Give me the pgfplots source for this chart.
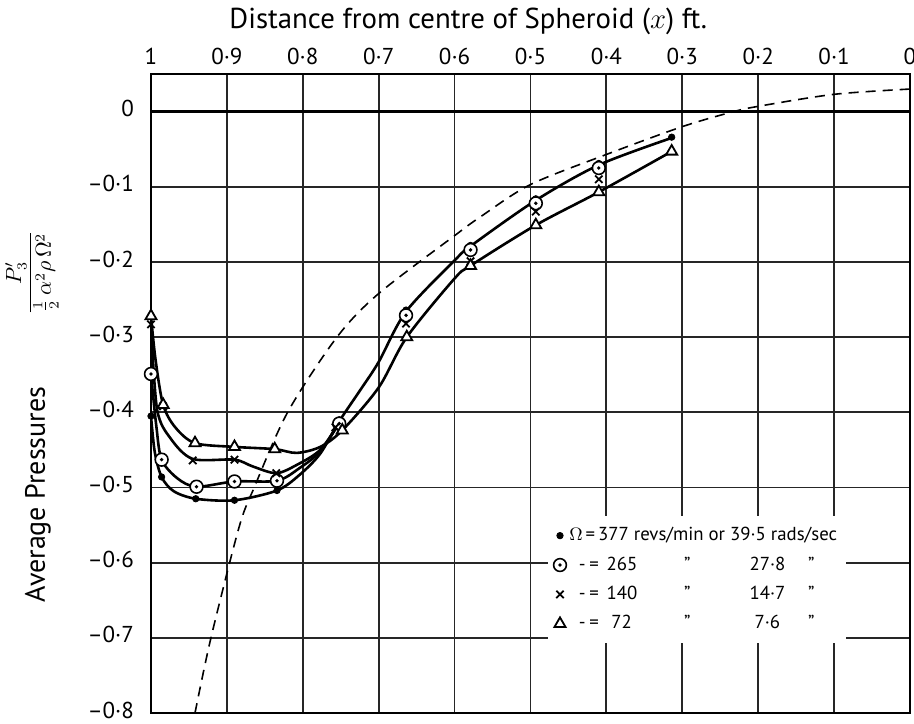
\documentclass[border=0pt]{standalone}
\usepackage{fontspec}
\setmainfont{PT Sans}
\usepackage{pgfplots}
\pgfplotsset{compat=1.18}
\pgfdeclareplotmark{odot}{%
  \pgfpathcircle{\pgfpointorigin}{\pgfplotmarksize}%
  \pgfsetfillcolor{white}\pgfusepathqfillstroke
  \pgfpathcircle{\pgfpointorigin}{0.3\pgfplotmarksize}%
  \pgfsetfillcolor{black}\pgfusepathqfill}
\pgfplotsset{mkleg/.style={legend image code/.code={\draw[mark repeat=2,mark phase=2,##1] plot coordinates {(0cm,0cm) (0.15cm,0cm) (0.3cm,0cm)};}}}
\begin{document}
\begin{tikzpicture}
\path[use as bounding box] (-75.5pt,-5pt) rectangle (381.5pt,356.5pt);
\begin{axis}[
  at={(0,0)}, anchor=south west, scale only axis,
  width=379.5pt, height=319.5pt,
  xmin=0, xmax=1, ymin=-0.8, ymax=0.05, x dir=reverse,
  xtick={0,0.1,0.2,0.3,0.4,0.5,0.6,0.7,0.8,0.9,1},
  xticklabels={0,0·1,0·2,0·3,0·4,0·5,0·6,0·7,0·8,0·9,1},
  xticklabel pos=upper,
  xticklabel style={anchor=base, yshift=5pt},
  ytick={-0.8,-0.7,-0.6,-0.5,-0.4,-0.3,-0.2,-0.1,0},
  yticklabels={–0·8,–0·7,–0·6,–0·5,–0·4,–0·3,–0·2,–0·1,0},
  yticklabel style={anchor=east, xshift=-5pt, yshift=1.5pt},
  ticklabel style={font=\fontsize{11.5}{13}\selectfont},
  major tick length=0pt,
  grid=major,
  major grid style={black!85, line width=0.9pt},
  axis line style={black, line width=1pt},
  extra y ticks={0}, extra y tick labels={},
  extra y tick style={grid=major, major grid style={black, line width=1.6pt}},
  title={Distance from centre of Spheroid ($x$) ft.},
  title style={at={(axis description cs:0.418,1)}, anchor=base, yshift=17pt, font=\fontsize{14.4}{16}\selectfont},
  ylabel={Average Pressures\hspace{36pt}\raisebox{4.5pt}{\fontsize{10.5}{12}\selectfont$\displaystyle\frac{P'_3}{\frac{1}{2}\,\alpha^2\rho\,\Omega^2}$}},
  ylabel style={at={(axis description cs:-0.1397,0.464)}, anchor=base, font=\fontsize{14}{16}\selectfont},
  legend style={at={(axis cs:0.478,-0.538)}, anchor=north west, draw=none, fill=white,
    font=\fontsize{9.4}{11.5}\selectfont, row sep=3.5pt, inner xsep=3pt, inner ysep=4pt,
    nodes={inner sep=1.5pt}},
  legend cell align=left,
]
% curves
\addplot[black, line width=1.3pt, smooth, tension=0.5, forget plot] coordinates {
 (1,-0.405) (0.995,-0.453) (0.986,-0.486) (0.97,-0.505) (0.941,-0.515) (0.89,-0.517)
 (0.834,-0.504) (0.804,-0.483) (0.777,-0.455) (0.752,-0.412) (0.724,-0.370) (0.7,-0.333)
 (0.664,-0.266) (0.6,-0.198) (0.579,-0.179) (0.493,-0.118) (0.41,-0.071) (0.314,-0.035)};
\addplot[black, line width=1.3pt, smooth, tension=0.5, forget plot] coordinates {
 (1,-0.349) (0.993,-0.418) (0.986,-0.463) (0.965,-0.488) (0.94,-0.499) (0.89,-0.492)
 (0.834,-0.491) (0.804,-0.474) (0.777,-0.452) (0.752,-0.414)};
\addplot[black, line width=1.3pt, smooth, tension=0.5, forget plot] coordinates {
 (1,-0.283) (0.992,-0.396) (0.974,-0.435) (0.945,-0.462) (0.89,-0.463) (0.866,-0.472)
 (0.835,-0.481) (0.808,-0.470) (0.777,-0.450) (0.752,-0.414)};
\addplot[black, line width=1.3pt, smooth, tension=0.5, forget plot] coordinates {
 (1,-0.272) (0.994,-0.33) (0.984,-0.39) (0.968,-0.42) (0.942,-0.441) (0.89,-0.446)
 (0.837,-0.449) (0.808,-0.454) (0.777,-0.446) (0.748,-0.424) (0.7,-0.367) (0.663,-0.300)
 (0.6,-0.222) (0.579,-0.205) (0.493,-0.151) (0.41,-0.107) (0.314,-0.053)};
% dashed curve
\addplot[black, line width=0.8pt, dash pattern=on 5pt off 3.5pt, smooth, tension=0.5, forget plot] coordinates {
 (0.942,-0.8) (0.921,-0.7) (0.884,-0.553) (0.864,-0.5) (0.82,-0.4) (0.755,-0.3) (0.7,-0.242)
 (0.6,-0.165) (0.566,-0.140) (0.5,-0.097) (0.4,-0.057) (0.3,-0.020) (0.236,-0.001)
 (0.2,0.007) (0.1,0.023) (0,0.030)};
% markers
\addplot[only marks, mark=*, mark size=1.6pt, black, mkleg] coordinates {
 (1,-0.405) (0.986,-0.486) (0.941,-0.515) (0.89,-0.517) (0.834,-0.504) (0.752,-0.410)
 (0.664,-0.264) (0.579,-0.178) (0.493,-0.116) (0.41,-0.069) (0.314,-0.034)};
\addlegendentry{\makebox[6.5pt][l]{$\Omega$}\,=\,377 revs/min or 39·5 rads/sec}
\addplot[only marks, mark=odot, mark size=3.2pt, black, mark options={line width=0.8pt}, mkleg] coordinates {
 (1,-0.349) (0.986,-0.463) (0.94,-0.499) (0.89,-0.492) (0.834,-0.491) (0.752,-0.415)
 (0.664,-0.271) (0.579,-0.184) (0.493,-0.122) (0.41,-0.075)};
\addlegendentry{\makebox[17pt][l]{\hspace{4.8pt}-\hspace{1.8pt}=}\makebox[32pt][l]{\,265}\makebox[20pt]{”}\makebox[20pt]{}\makebox[20pt]{27·8}\makebox[2pt]{}\makebox[20pt]{”}}
\addplot[only marks, mark=x, mark size=2.6pt, black, mark options={line width=0.9pt}, mkleg] coordinates {
 (1,-0.283) (0.984,-0.392) (0.945,-0.464) (0.89,-0.463) (0.835,-0.481) (0.757,-0.420)
 (0.664,-0.282) (0.579,-0.199) (0.493,-0.133) (0.41,-0.090)};
\addlegendentry{\makebox[17pt][l]{\hspace{4.8pt}-\hspace{1.8pt}=}\makebox[32pt][l]{\,140}\makebox[20pt]{”}\makebox[20pt]{}\makebox[20pt]{14·7}\makebox[2pt]{}\makebox[20pt]{”}}
\addplot[only marks, mark=triangle*, mark size=3.2pt, black, mark options={fill=white, line width=0.9pt}, mkleg] coordinates {
 (1,-0.272) (0.984,-0.390) (0.942,-0.441) (0.89,-0.446) (0.837,-0.449) (0.748,-0.424)
 (0.663,-0.300) (0.579,-0.205) (0.493,-0.151) (0.41,-0.107) (0.314,-0.053)};
\addlegendentry{\makebox[17pt][l]{\hspace{4.8pt}-\hspace{1.8pt}=}\makebox[32pt][l]{\hspace{4pt}72}\makebox[20pt]{”}\makebox[20pt]{}\makebox[20pt]{7·6}\makebox[2pt]{}\makebox[20pt]{”}}
\end{axis}
\end{tikzpicture}
\end{document}
